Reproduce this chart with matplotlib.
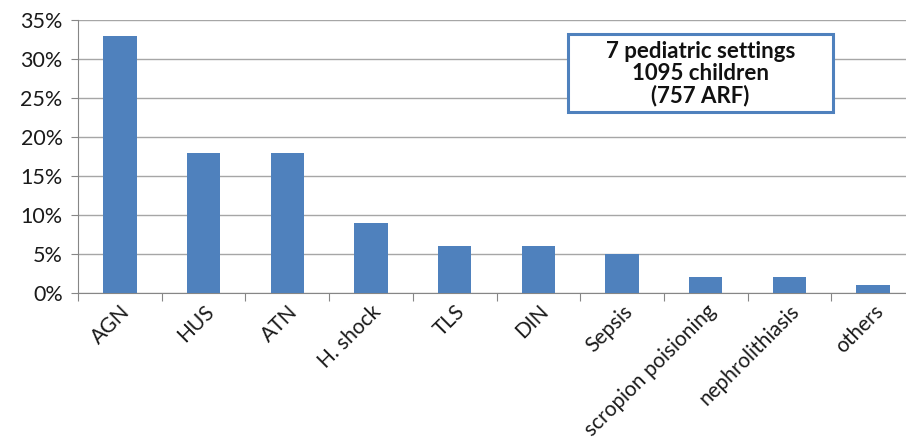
import matplotlib
matplotlib.use("Agg")
import matplotlib.pyplot as plt
from matplotlib.ticker import PercentFormatter
from matplotlib.patches import Rectangle

categories = ["AGN", "HUS", "ATN", "H. shock", "TLS", "DIN", "Sepsis",
              "scropion poisioning", "nephrolithiasis", "others"]
values = [33, 18, 18, 9, 6, 6, 5, 2, 2, 1]
yticks = [0, 5, 10, 15, 20, 25, 30, 35]
box_text = "7 pediatric settings\n1095 children\n(757 ARF)"

W, H = 906, 445
fig = plt.figure(figsize=(W / 100, H / 100), dpi=100)
plt.rcParams['font.family'] = ['Lato', 'DejaVu Sans']
left, right, top, bottom = 78, 78 + 837, 20, 293
ax = fig.add_axes([left / W, 1 - bottom / H, (right - left) / W, (bottom - top) / H])

x = list(range(len(categories)))
ax.bar(x, values, width=0.4, color="#4F81BD", zorder=3)
ax.set_xlim(-0.5, len(categories) - 0.5)
ax.set_ylim(0, 35)
ax.set_yticks(yticks)
ax.yaxis.set_major_formatter(PercentFormatter(decimals=0))
ax.grid(axis='y', color="#A6A6A6", linewidth=1, zorder=0)
ax.set_xticks([i - 0.5 for i in x] + [len(x) - 0.5])
ax.set_xticklabels([])
ax.set_xticks(x, minor=True)
ax.set_xticklabels(categories, minor=True, rotation=45, ha='right',
                   rotation_mode='anchor', fontsize=15, color="#1a1a1a")
ax.tick_params(axis='x', which='minor', length=0, pad=6)
ax.tick_params(axis='x', which='major', length=6, color="#868686")
ax.tick_params(axis='y', length=5, color="#868686", labelsize=15.5, labelcolor="#1a1a1a", pad=6)
for s in ['top', 'right']:
    ax.spines[s].set_visible(False)
for s in ['left', 'bottom']:
    ax.spines[s].set_color("#868686")

bx0, bx1, by0, by1 = 568, 833, 34, 112
fig.patches.append(Rectangle((bx0 / W, 1 - by1 / H), (bx1 - bx0) / W, (by1 - by0) / H,
                             transform=fig.transFigure, facecolor='white',
                             edgecolor='#4F81BD', linewidth=2.2, zorder=5))
fig.text((bx0 + bx1) / 2 / W, 1 - 74 / H, box_text, ha='center', va='center', fontsize=16,
         fontweight='bold', linespacing=1.05, color="#111111", zorder=6)
fig.savefig("out.png", dpi=100)
